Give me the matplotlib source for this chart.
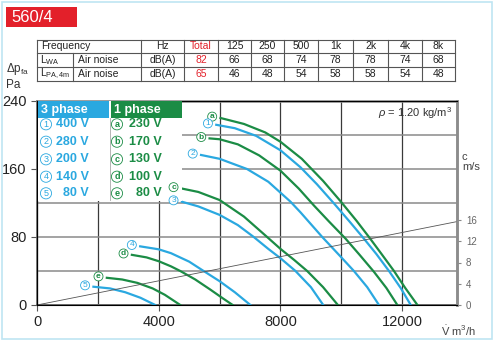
import matplotlib.pyplot as plt
from matplotlib.patches import Rectangle

plt.rcParams["font.family"] = ["Liberation Sans", "DejaVu Sans"]
plt.rcParams["mathtext.fontset"] = "custom"
plt.rcParams["mathtext.rm"] = "Liberation Sans"
plt.rcParams["mathtext.it"] = "Liberation Sans:italic"

BLUE = "#2aa8e0"
GREEN = "#1b8c45"
RED = "#e3202a"

# table data
freq_labels = ["125", "250", "500", "1k", "2k", "4k", "8k"]
lwa_total = "82"
lwa_values = ["66", "68", "74", "78", "78", "74", "68"]
lpa_total = "65"
lpa_values = ["46", "48", "54", "58", "58", "54", "48"]

# legend
three_phase_ids = ["1", "2", "3", "4", "5"]
three_phase_volts = ["400 V", "280 V", "200 V", "140 V", "80 V"]
one_phase_ids = ["a", "b", "c", "d", "e"]
one_phase_volts = ["230 V", "170 V", "130 V", "100 V", "80 V"]

# fan curves, airflow m3/h -> pressure Pa
v_1 = [5890, 6500, 7200, 8000, 8658, 9200, 9745, 10250, 10743, 11150, 11565, 11950, 12280]
p_1 = [212, 208, 199, 182, 162, 142, 120, 99, 78, 60, 40, 20, 0]
v_2 = [5390, 6000, 6900, 7600, 8330, 8658, 9372, 10000, 10413, 10850, 11236]
p_2 = [176.5, 172, 160, 145, 121.5, 109, 80, 56, 40, 21, 0]
v_3 = [4760, 5300, 6000, 6600, 7122, 7600, 8000, 8493, 9000, 9405]
p_3 = [121.5, 116, 106, 94, 80, 66, 55, 40, 21, 0]
v_4 = [3390, 4000, 4400, 5000, 5475, 6000, 6500, 7012]
p_4 = [69, 65.5, 61, 51, 40, 28, 15, 0]
v_5 = [1854, 2400, 2900, 3400, 3885]
p_5 = [21.5, 19.5, 15, 8.5, 0]

v_a = [6030, 6800, 7500, 8000, 8700, 9400, 9975, 10500, 10907, 11300, 11730, 12100, 12500]
p_a = [220, 213, 203, 192, 172, 146, 122, 99, 80, 61, 40, 20, 0]
v_b = [5670, 6000, 6600, 7300, 8000, 8600, 9100, 9600, 10140, 10600, 11072, 11480, 11840]
p_b = [196, 195, 189, 176, 158, 137, 117, 98, 78, 59, 39, 20, 0]
v_c = [4760, 5300, 6000, 6800, 7561, 8000, 8450, 8877, 9400, 9886]
p_c = [137, 133, 123.5, 104, 80, 66, 53, 40, 21, 0]
v_d = [3117, 3600, 4000, 4400, 4707, 5200, 5700, 6100, 6430]
p_d = [59, 56, 51.5, 45.5, 40, 30, 18, 8, 0]
v_e = [2294, 2800, 3300, 3800, 4200, 4707]
p_e = [32, 30, 26, 19.5, 12, 0]

# outlet velocity line
vel_v = [0, 13800]
vel_c = [0, 15.7]

fig = plt.figure(figsize=(5, 3.44), dpi=100)
ax = fig.add_axes([37 / 500, 39 / 344, 420 / 500, 204 / 344])
ax.set_xlim(0, 13800)
ax.set_ylim(0, 240)

ax.set_xticks([0, 4000, 8000, 12000])
ax.set_xticks([2000, 6000, 10000], minor=True)
ax.set_yticks([0, 80, 160, 240])
ax.set_yticks([40, 120, 200], minor=True)
ax.grid(axis="x", which="both", color="#3a3a3a", lw=0.9)
ax.grid(axis="y", which="both", color="#8a8a8a", lw=1.1)
ax.tick_params(which="major", length=4, color="#555", labelsize=10.5, labelcolor="#222")
ax.tick_params(which="minor", length=0)
for s in ["top", "right"]:
    ax.spines[s].set_color("#8c8c8c")
    ax.spines[s].set_linewidth(1.8)
for s in ["left", "bottom"]:
    ax.spines[s].set_color("#666")
    ax.spines[s].set_linewidth(1.2)

ax2 = ax.twinx()
ax2.set_ylim(0, 38.4)
ax2.set_yticks([0, 4, 8, 12, 16])
ax2.tick_params(length=3, color="#888", labelsize=7, labelcolor="#666")
ax2.spines["right"].set_color("#8c8c8c")
ax2.spines["right"].set_linewidth(1.8)
ax2.plot(vel_v, vel_c, color="#555", lw=0.6)

curves = [
    (v_a, p_a, GREEN, "a"), (v_1, p_1, BLUE, "1"), (v_b, p_b, GREEN, "b"),
    (v_2, p_2, BLUE, "2"), (v_c, p_c, GREEN, "c"), (v_3, p_3, BLUE, "3"),
    (v_4, p_4, BLUE, "4"), (v_d, p_d, GREEN, "d"), (v_e, p_e, GREEN, "e"),
    (v_5, p_5, BLUE, "5"),
]
circ = lambda c: dict(boxstyle="circle,pad=0.12", fc="white", ec=c, lw=0.6)
for v, p, col, lab in curves:
    ax.plot(v, p, color=col, lw=1.6, zorder=3)

# overlay in pixel coordinates
ov = fig.add_axes([0, 0, 1, 1], zorder=5)
ov.set_xlim(0, 500)
ov.set_ylim(344, 0)
ov.axis("off")
ov.patch.set_alpha(0)

ov.add_patch(Rectangle((2, 2), 490, 337, fc="none", ec="#bfe5f2", lw=1.2))
ov.add_patch(Rectangle((6, 7), 71, 20, fc=RED, ec="none"))
ov.text(11, 17.5, "560/4", color="white", fontsize=12, va="center")

# table
tcol = "#555"
for y in [39.5, 53, 67, 81]:
    ov.plot([37, 455], [y, y], color=tcol, lw=0.8)
xs = [37, 141, 184, 218, 251, 284, 318, 353, 388, 422, 455]
for x in xs:
    ov.plot([x, x], [39.5, 81], color=tcol, lw=0.8)
ov.plot([73, 73], [53, 81], color=tcol, lw=0.8)
mids = [(xs[i] + xs[i + 1]) / 2 for i in range(3, 10)]
kw = dict(fontsize=7.5, va="center", color="#222")
ov.text(41, 46.3, "Frequency", **kw)
ov.text(162.5, 46.3, "Hz", ha="center", **kw)
ov.text(201, 46.3, "Total", ha="center", **{**kw, "color": RED})
for x, s in zip(mids, freq_labels):
    ov.text(x, 46.3, s, ha="center", **kw)
for y, lab, tot, vals in [(60, r"L$_{\mathrm{WA}}$", lwa_total, lwa_values),
                          (74, r"L$_{\mathrm{PA,4m}}$", lpa_total, lpa_values)]:
    ov.text(40, y, lab, **kw)
    ov.text(78, y, "Air noise", **kw)
    ov.text(162.5, y, "dB(A)", ha="center", **kw)
    ov.text(201, y, tot, ha="center", **{**kw, "color": RED})
    for x, s in zip(mids, vals):
        ov.text(x, y, s, ha="center", **kw)

ov.text(6, 69, r"$\Delta$p$_{\mathrm{fa}}$", fontsize=8.5, va="center", color="#333")
ov.text(6, 85, "Pa", fontsize=8.5, va="center", color="#333")

# legend box
ov.add_patch(Rectangle((37.5, 101), 144.5, 100, fc="white", ec="none"))
ov.add_patch(Rectangle((37.5, 101), 71, 17, fc=BLUE, ec="none"))
ov.add_patch(Rectangle((110.5, 101), 71, 17, fc=GREEN, ec="none"))
ov.plot([109.5, 109.5], [118, 200], color="#aaa", lw=0.6)
hkw = dict(fontsize=9, fontweight="bold", va="center")
ov.text(41, 110, "3 phase", color="white", **hkw)
ov.text(114, 110, "1 phase", color="white", **hkw)
rows_y = [124.3, 141.7, 159.3, 176.7, 193.3]
for y, i3, v3, i1, v1 in zip(rows_y, three_phase_ids, three_phase_volts,
                             one_phase_ids, one_phase_volts):
    ov.text(46, y, i3, ha="center", va="center", fontsize=6.5, color=BLUE, bbox=circ(BLUE))
    ov.text(89, y, v3, ha="right", color=BLUE, **hkw)
    ov.text(117, y, i1, ha="center", va="center", fontsize=6.5, color=GREEN,
            fontweight="bold", bbox=circ(GREEN))
    ov.text(162, y, v1, ha="right", color=GREEN, **hkw)

# curve labels drawn above the legend box
for v, p, col, lab in curves:
    ov.annotate(lab, xy=(v[0], p[0]), xycoords=ax.transData, xytext=(-6, 1),
                textcoords="offset points", ha="center", va="center", fontsize=6,
                color=col, fontweight="bold" if col == GREEN else "normal",
                bbox=circ(col), annotation_clip=False)

ov.text(452, 113, r"$\rho$ = 1.20 kg/m$^3$", ha="right", va="center", fontsize=8, color="#333")
ov.text(462, 162, "c\nm/s", ha="left", va="center", fontsize=8, color="#444", linespacing=0.95)
ov.text(441, 331, r"$\dot{\mathrm{V}}$ m$^3$/h", ha="left", va="center", fontsize=8, color="#444")

fig.savefig("out.png", dpi=100)
